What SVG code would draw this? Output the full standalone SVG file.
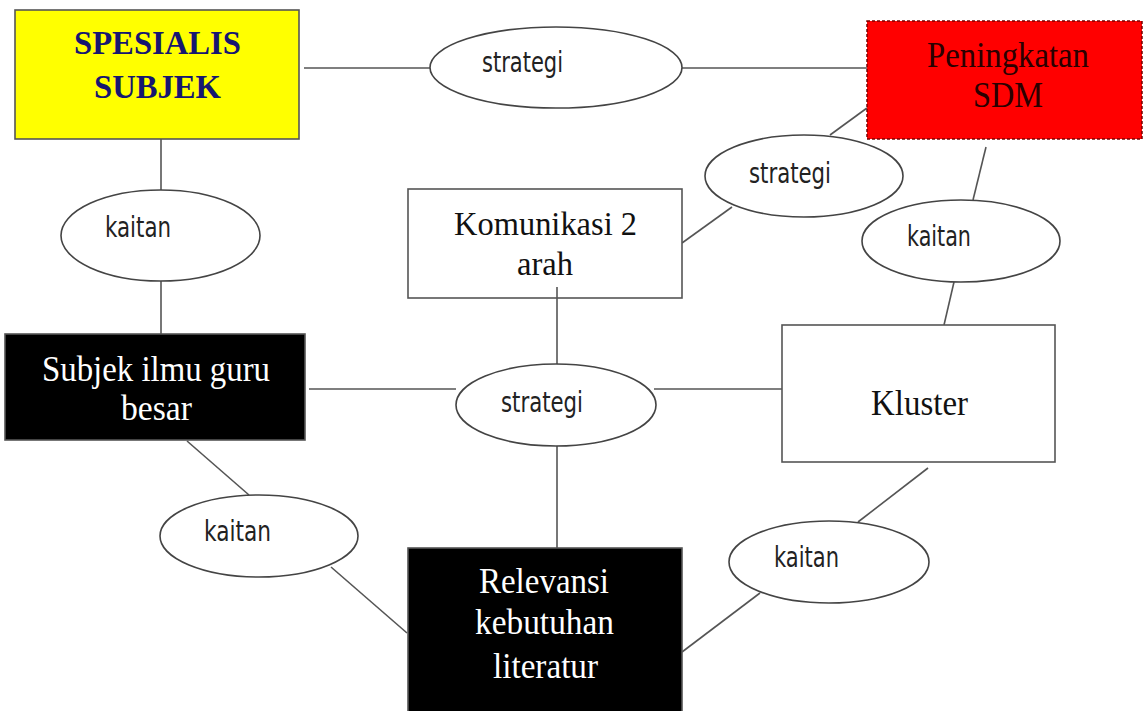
<svg xmlns="http://www.w3.org/2000/svg" width="1143" height="711" viewBox="0 0 1143 711">
<style>
.box{stroke:#555;stroke-width:1.6}
.ell{fill:#fff;stroke:#444;stroke-width:1.6}
.con line{stroke:#555;stroke-width:1.6}
.serif{font-family:"Liberation Serif","Times New Roman",serif}
.sans{font-family:"DejaVu Sans","Liberation Sans",sans-serif;font-size:28px;fill:#222}
</style>
<rect width="1143" height="711" fill="#fff"/>
<g id="connectors" class="con">
<line x1="304" y1="68" x2="430" y2="68"/>
<line x1="682" y1="68" x2="867" y2="68"/>
<line x1="161" y1="135" x2="161" y2="190"/>
<line x1="161" y1="281" x2="161" y2="335"/>
<line x1="309" y1="389" x2="456" y2="389"/>
<line x1="654" y1="389" x2="782" y2="389"/>
<line x1="557" y1="287" x2="557" y2="364"/>
<line x1="557" y1="446" x2="557" y2="548"/>
<line x1="187" y1="441" x2="249" y2="495"/>
<line x1="331" y1="567" x2="407" y2="633"/>
<line x1="928" y1="468" x2="858" y2="522"/>
<line x1="760" y1="593" x2="682" y2="652"/>
<line x1="682" y1="243" x2="732" y2="207"/>
<line x1="830" y1="135" x2="867" y2="108"/>
<line x1="986" y1="147" x2="973" y2="200"/>
<line x1="954" y1="282" x2="944" y2="325"/>
</g>
<g id="spesialis">
<rect class="box" x="15" y="10" width="284" height="129" fill="#ffff00"/>
<text class="serif" font-weight="bold" font-size="33" fill="#161670" x="74" y="54" textLength="167" lengthAdjust="spacingAndGlyphs">SPESIALIS</text>
<text class="serif" font-weight="bold" font-size="33" fill="#161670" x="94" y="98" textLength="127" lengthAdjust="spacingAndGlyphs">SUBJEK</text>
</g>
<g id="strategi-top">
<ellipse class="ell" cx="556" cy="67.5" rx="126" ry="40.5"/>
<text class="sans" x="482" y="72" textLength="81" lengthAdjust="spacingAndGlyphs">strategi</text>
</g>
<g id="peningkatan">
<rect x="867" y="21" width="275" height="118" fill="#f00" stroke="#7a0000" stroke-width="1.5" stroke-dasharray="3 2"/>
<text class="serif" font-size="35" fill="#2a0000" x="927" y="67" textLength="162" lengthAdjust="spacingAndGlyphs">Peningkatan</text>
<text class="serif" font-size="35" fill="#2a0000" x="973" y="107" textLength="70" lengthAdjust="spacingAndGlyphs">SDM</text>
</g>
<g id="strategi-right">
<ellipse class="ell" cx="804" cy="176" rx="99" ry="41"/>
<text class="sans" x="749" y="183" textLength="82" lengthAdjust="spacingAndGlyphs">strategi</text>
</g>
<g id="kaitan-left">
<ellipse class="ell" cx="160.5" cy="235.5" rx="99.5" ry="45.5"/>
<text class="sans" x="105" y="237" textLength="66" lengthAdjust="spacingAndGlyphs">kaitan</text>
</g>
<g id="komunikasi">
<rect class="box" x="408" y="189" width="274" height="109" fill="#fff"/>
<text class="serif" font-size="34" fill="#111" x="454" y="235" textLength="183" lengthAdjust="spacingAndGlyphs">Komunikasi 2</text>
<text class="serif" font-size="34" fill="#111" x="517" y="275" textLength="56" lengthAdjust="spacingAndGlyphs">arah</text>
</g>
<line x1="557" y1="287" x2="557" y2="298" stroke="#555" stroke-width="1.6"/>
<g id="kaitan-right">
<ellipse class="ell" cx="961" cy="241" rx="99" ry="41"/>
<text class="sans" x="907" y="246" textLength="64" lengthAdjust="spacingAndGlyphs">kaitan</text>
</g>
<g id="subjek-ilmu">
<rect class="box" x="5" y="334" width="300" height="106" fill="#000"/>
<text class="serif" font-size="36" fill="#fff" x="42" y="381" textLength="228" lengthAdjust="spacingAndGlyphs">Subjek ilmu guru</text>
<text class="serif" font-size="36" fill="#fff" x="121" y="420" textLength="71" lengthAdjust="spacingAndGlyphs">besar</text>
</g>
<g id="strategi-center">
<ellipse class="ell" cx="556" cy="405" rx="100" ry="41"/>
<text class="sans" x="501" y="412" textLength="82" lengthAdjust="spacingAndGlyphs">strategi</text>
</g>
<g id="kluster">
<rect class="box" x="782" y="325" width="273" height="137" fill="#fff"/>
<text class="serif" font-size="36" fill="#111" x="871" y="415" textLength="97" lengthAdjust="spacingAndGlyphs">Kluster</text>
</g>
<g id="kaitan-bottom-left">
<ellipse class="ell" cx="259" cy="536" rx="99" ry="41"/>
<text class="sans" x="204" y="541" textLength="67" lengthAdjust="spacingAndGlyphs">kaitan</text>
</g>
<g id="kaitan-bottom-right">
<ellipse class="ell" cx="829" cy="562" rx="100" ry="41"/>
<text class="sans" x="774" y="567" textLength="65" lengthAdjust="spacingAndGlyphs">kaitan</text>
</g>
<g id="relevansi">
<rect class="box" x="408" y="548" width="274" height="170" fill="#000"/>
<text class="serif" font-size="36" fill="#fff" x="479" y="593" textLength="130" lengthAdjust="spacingAndGlyphs">Relevansi</text>
<text class="serif" font-size="36" fill="#fff" x="475" y="634" textLength="139" lengthAdjust="spacingAndGlyphs">kebutuhan</text>
<text class="serif" font-size="36" fill="#fff" x="493" y="678" textLength="105" lengthAdjust="spacingAndGlyphs">literatur</text>
</g>
</svg>
